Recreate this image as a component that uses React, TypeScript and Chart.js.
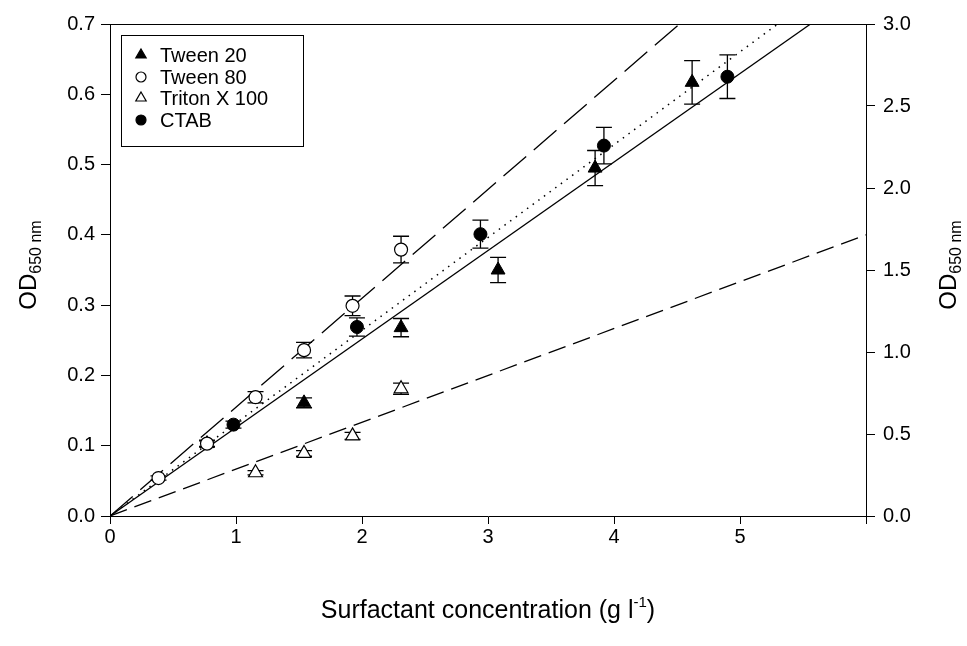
import React, { useEffect, useRef } from "react";
import { Chart, registerables } from "chart.js";
Chart.register(...registerables);

// ---- data ----
const tween20X = [0.77, 1.54, 2.31, 3.08, 3.85, 4.62];
const tween20Y = [0.103, 0.161, 0.268, 0.35, 0.495, 0.617];
const tween20Err = [0.004, 0.007, 0.013, 0.018, 0.025, 0.031];

const tween80X = [0.385, 0.77, 1.155, 1.54, 1.925, 2.31];
const tween80Y = [0.054, 0.103, 0.169, 0.236, 0.299, 0.379];
const tween80Err = [0.003, 0.005, 0.008, 0.011, 0.014, 0.019];

const tritonX = [1.155, 1.54, 1.925, 2.31];
const tritonY = [0.0615, 0.089, 0.114, 0.181];
const tritonErr = [0.003, 0.004, 0.005, 0.008];

const ctabX = [0.98, 1.96, 2.94, 3.92, 4.9];
const ctabY = [0.13, 0.269, 0.401, 0.527, 0.625];
const ctabErr = [0.005, 0.013, 0.02, 0.026, 0.031];

// regression lines (end points)
const fitTween20X = [0, 5.56];
const fitTween20Y = [0, 0.7];
const fitTween80X = [0, 4.52];
const fitTween80Y = [0, 0.7];
const fitCtabX = [0, 5.3];
const fitCtabY = [0, 0.7];
const fitTritonX = [0, 6];
const fitTritonY = [0, 0.4];

const legendLabels = ["Tween 20", "Tween 80", "Triton X 100", "CTAB"];
const xTickLabels = ["0", "1", "2", "3", "4", "5", ""];

const FONT = '"Liberation Sans", Arial, sans-serif';
const TICK_SIZE = 20;

const pts = (xs: number[], ys: number[]) => xs.map((x, i) => ({ x, y: ys[i] }));

const errorBarPlugin = {
  id: "errorBars",
  beforeDatasetsDraw(chart: any) {
    const ctx = chart.ctx;
    const xs = chart.scales.x;
    const ys = chart.scales.y;
    chart.data.datasets.forEach((ds: any) => {
      if (!ds.errors) return;
      ctx.save();
      ctx.strokeStyle = "#000";
      ctx.lineWidth = 1.3;
      ds.data.forEach((p: any, j: number) => {
        const e = ds.errors[j];
        const px = xs.getPixelForValue(p.x);
        const top = ys.getPixelForValue(p.y + e);
        const bot = ys.getPixelForValue(p.y - e);
        ctx.beginPath();
        ctx.moveTo(px, top);
        ctx.lineTo(px, bot);
        ctx.moveTo(px - 8, top);
        ctx.lineTo(px + 8, top);
        ctx.moveTo(px - 8, bot);
        ctx.lineTo(px + 8, bot);
        ctx.stroke();
      });
      ctx.restore();
    });
  },
};

function drawRotatedOD(ctx: CanvasRenderingContext2D, cx: number, cy: number) {
  ctx.save();
  ctx.translate(cx, cy);
  ctx.rotate(-Math.PI / 2);
  const big = `24px ${FONT}`;
  const small = `16px ${FONT}`;
  ctx.font = big;
  const w1 = ctx.measureText("OD").width;
  ctx.font = small;
  const w2 = ctx.measureText("650 nm").width;
  const total = w1 + w2;
  ctx.fillStyle = "#000";
  ctx.textBaseline = "alphabetic";
  ctx.textAlign = "left";
  ctx.font = big;
  ctx.fillText("OD", -total / 2, 9);
  ctx.font = small;
  ctx.fillText("650 nm", -total / 2 + w1, 14);
  ctx.restore();
}

const titlesPlugin = {
  id: "titles",
  afterDraw(chart: any) {
    const ctx = chart.ctx;
    const a = chart.chartArea;
    // frame top line
    ctx.save();
    ctx.strokeStyle = "#000";
    ctx.lineWidth = 1;
    ctx.beginPath();
    ctx.moveTo(a.left, a.top + 0.5);
    ctx.lineTo(a.right, a.top + 0.5);
    ctx.stroke();
    ctx.restore();

    const midY = (a.top + a.bottom) / 2 - 5;
    drawRotatedOD(ctx, 27, midY);
    drawRotatedOD(ctx, 947, midY);

    // x title
    ctx.save();
    ctx.fillStyle = "#000";
    const big = `25px ${FONT}`;
    const small = `15px ${FONT}`;
    const p1 = "Surfactant concentration (g l";
    const p2 = "-1";
    const p3 = ")";
    ctx.font = big;
    const w1 = ctx.measureText(p1).width;
    const w3 = ctx.measureText(p3).width;
    ctx.font = small;
    const w2 = ctx.measureText(p2).width;
    const total = w1 + w2 + w3;
    const x0 = (a.left + a.right) / 2 - total / 2;
    const base = 618;
    ctx.textAlign = "left";
    ctx.textBaseline = "alphabetic";
    ctx.font = big;
    ctx.fillText(p1, x0, base);
    ctx.font = small;
    ctx.fillText(p2, x0 + w1, base - 11);
    ctx.font = big;
    ctx.fillText(p3, x0 + w1 + w2, base);
    ctx.restore();

    // legend
    ctx.save();
    ctx.strokeStyle = "#000";
    ctx.lineWidth = 1;
    ctx.strokeRect(121.5, 35.5, 182, 111);
    const rows = [55, 77, 98, 120];
    const mx = 141;
    ctx.font = `20px ${FONT}`;
    ctx.fillStyle = "#000";
    ctx.textBaseline = "middle";
    ctx.textAlign = "left";
    legendLabels.forEach((lab, i) => {
      const y = rows[i];
      ctx.beginPath();
      ctx.lineWidth = 1.2;
      if (i === 0 || i === 2) {
        const r = 6;
        ctx.moveTo(mx, y - r);
        ctx.lineTo(mx + r * 0.866, y + r * 0.5);
        ctx.lineTo(mx - r * 0.866, y + r * 0.5);
        ctx.closePath();
      } else {
        ctx.arc(mx, y, 5, 0, Math.PI * 2);
      }
      ctx.fillStyle = i === 0 || i === 3 ? "#000" : "#fff";
      ctx.fill();
      ctx.stroke();
      ctx.fillStyle = "#000";
      ctx.fillText(lab, 160, y + 1);
    });
    ctx.restore();
  },
};

export default function App() {
  const ref = useRef<HTMLCanvasElement | null>(null);
  useEffect(() => {
    if (!ref.current) return;
    const tickFont = { family: FONT, size: TICK_SIZE };
    const chart = new Chart(ref.current, {
      type: "scatter",
      data: {
        datasets: [
          {
            label: "Tween 20 fit",
            data: pts(fitTween20X, fitTween20Y),
            showLine: true,
            borderColor: "#000",
            borderWidth: 1.3,
            pointRadius: 0,
            order: 10,
          },
          {
            label: "Tween 80 fit",
            data: pts(fitTween80X, fitTween80Y),
            showLine: true,
            borderColor: "#000",
            borderWidth: 1.3,
            borderDash: [30, 10],
            pointRadius: 0,
            order: 10,
          },
          {
            label: "CTAB fit",
            data: pts(fitCtabX, fitCtabY),
            showLine: true,
            borderColor: "#000",
            borderWidth: 1.5,
            borderDash: [1.5, 5.5],
            pointRadius: 0,
            order: 10,
          },
          {
            label: "Triton X 100 fit",
            data: pts(fitTritonX, fitTritonY),
            showLine: true,
            borderColor: "#000",
            borderWidth: 1.3,
            borderDash: [18, 8],
            pointRadius: 0,
            order: 10,
          },
          {
            label: "Tween 20",
            data: pts(tween20X, tween20Y),
            errors: tween20Err,
            pointStyle: "triangle",
            pointRadius: 8,
            pointBackgroundColor: "#000",
            pointBorderColor: "#000",
            pointBorderWidth: 1,
            order: 4,
          } as any,
          {
            label: "Triton X 100",
            data: pts(tritonX, tritonY),
            errors: tritonErr,
            pointStyle: "triangle",
            pointRadius: 8,
            pointBackgroundColor: "#fff",
            pointBorderColor: "#000",
            pointBorderWidth: 1.2,
            order: 3,
          } as any,
          {
            label: "CTAB",
            data: pts(ctabX, ctabY),
            errors: ctabErr,
            pointStyle: "circle",
            pointRadius: 6.5,
            pointBackgroundColor: "#000",
            pointBorderColor: "#000",
            pointBorderWidth: 1,
            order: 2,
          } as any,
          {
            label: "Tween 80",
            data: pts(tween80X, tween80Y),
            errors: tween80Err,
            pointStyle: "circle",
            pointRadius: 6.5,
            pointBackgroundColor: "#fff",
            pointBorderColor: "#000",
            pointBorderWidth: 1.2,
            order: 1,
          } as any,
        ],
      },
      options: {
        responsive: false,
        animation: false,
        events: [],
        layout: { padding: { top: 24, left: 0, right: 0, bottom: 0 } },
        plugins: { legend: { display: false }, tooltip: { enabled: false } },
        scales: {
          x: {
            type: "linear",
            position: "bottom",
            min: 0,
            max: 6,
            ticks: {
              stepSize: 1,
              color: "#000",
              font: tickFont,
              padding: 1,
              maxRotation: 0,
              callback: (v: any) => xTickLabels[Math.round(Number(v))] ?? "",
            },
            grid: { drawOnChartArea: false, drawTicks: true, tickLength: 8, tickColor: "#000", lineWidth: 1 },
            border: { display: true, color: "#000", width: 1 },
            afterFit: (s: any) => {
              s.height = 130;
            },
          },
          y: {
            type: "linear",
            position: "left",
            min: 0,
            max: 0.7,
            ticks: {
              stepSize: 0.1,
              color: "#000",
              font: tickFont,
              padding: 6,
              callback: (v: any) => Number(v).toFixed(1),
            },
            grid: { drawOnChartArea: false, drawTicks: true, tickLength: 9, tickColor: "#000", lineWidth: 1 },
            border: { display: true, color: "#000", width: 1 },
            afterFit: (s: any) => {
              s.width = 110;
            },
          },
          y2: {
            type: "linear",
            position: "right",
            min: 0,
            max: 3,
            ticks: {
              stepSize: 0.5,
              color: "#000",
              font: tickFont,
              padding: 8,
              callback: (v: any) => Number(v).toFixed(1),
            },
            grid: { drawOnChartArea: false, drawTicks: true, tickLength: 9, tickColor: "#000", lineWidth: 1 },
            border: { display: true, color: "#000", width: 1 },
            afterFit: (s: any) => {
              s.width = 101;
            },
          },
        },
      } as any,
      plugins: [errorBarPlugin, titlesPlugin],
    });
    return () => chart.destroy();
  }, []);

  return (
    <div style={{ position: "absolute", left: 0, top: 0, width: 967, height: 646, background: "#fff" }}>
      <canvas ref={ref} width={967} height={646} style={{ width: 967, height: 646 }} />
    </div>
  );
}
